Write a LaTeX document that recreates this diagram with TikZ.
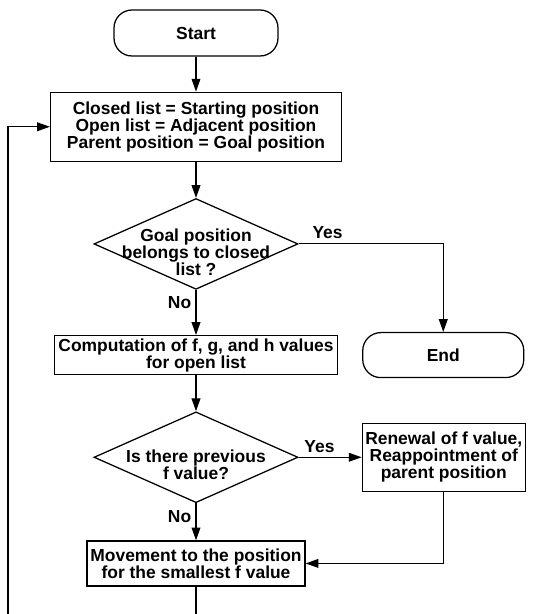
\documentclass[tikz,border=0pt]{standalone}
\usepackage{fontspec}
\setmainfont{Liberation Sans}
\usetikzlibrary{shapes.geometric, arrows.meta, positioning}

\begin{document}
\begin{tikzpicture}[
    node distance=0.9cm,
    font=\fontsize{12.4}{12.2}\selectfont\bfseries,
    term/.style={rectangle, rounded corners=0.45cm, draw, line width=0.9pt,
                 minimum width=4.1cm, minimum height=1.15cm},
    box/.style={rectangle, draw, line width=0.9pt, align=center, inner sep=1pt},
    decision/.style={diamond, draw, line width=0.9pt, inner sep=0pt,
                     minimum width=5.1cm, minimum height=2.27cm},
    arrow/.style={-{Triangle[length=3.2mm, width=2.2mm]}, line width=0.8pt},
    lbl/.style={inner sep=3pt}
]
\useasboundingbox (0,0) rectangle (13.3,-15.35);

\node[term] (start) at (4.9,-0.825) {Start};
\node[box, below=0.875cm of start, minimum width=7.275cm, minimum height=1.725cm] (init)
    {Closed list = Starting position\\Open list = Adjacent position\\Parent position = Goal position};
\node[decision, below=0.9cm of init,
      label={[align=center, yshift=-0.2cm]center:Goal position\\belongs to closed\\list ?}] (goal) {};
\node[box, below=1.125cm of goal, minimum width=7.075cm, minimum height=0.975cm] (comp)
    {Computation of f, g, and h values\\for open list};
\node[term, right=0.6cm of comp, minimum width=4.025cm, minimum height=1.125cm] (finish) {End};
\node[decision, below=0.9cm of comp,
      label={[align=center, yshift=-0.18cm]center:Is there previous\\f value?}] (prev) {};
\node[box, right=1.575cm of prev, minimum width=4.075cm, minimum height=1.7cm] (renew)
    {Renewal of f value,\\Reappointment of\\parent position};
\node[box, below=0.925cm of prev, minimum width=5.45cm, minimum height=1.125cm] (move)
    {Movement to the position\\for the smallest f value};
\coordinate (loop) at (0.2,-15.8); % loop runs out below the picture

\draw[arrow] (start) -- (init);
\draw[arrow] (init) -- (goal);
\draw[arrow] (goal.east) -| node[lbl, pos=0.1, above] {Yes} (finish.north);
\draw[arrow] (goal.south) -- node[lbl, pos=0.27, left] {No} (comp.north);
\draw[arrow] (comp) -- (prev);
\draw[arrow] (prev.east) -- node[lbl, pos=0.33, above] {Yes} (renew.west);
\draw[arrow] (prev.south) -- node[lbl, pos=0.35, left] {No} (move.north);
\draw[arrow] (renew.south) |- (move.east);
\draw[arrow] (move.south) |- (loop) |- (init.west);
\end{tikzpicture}
\end{document}
